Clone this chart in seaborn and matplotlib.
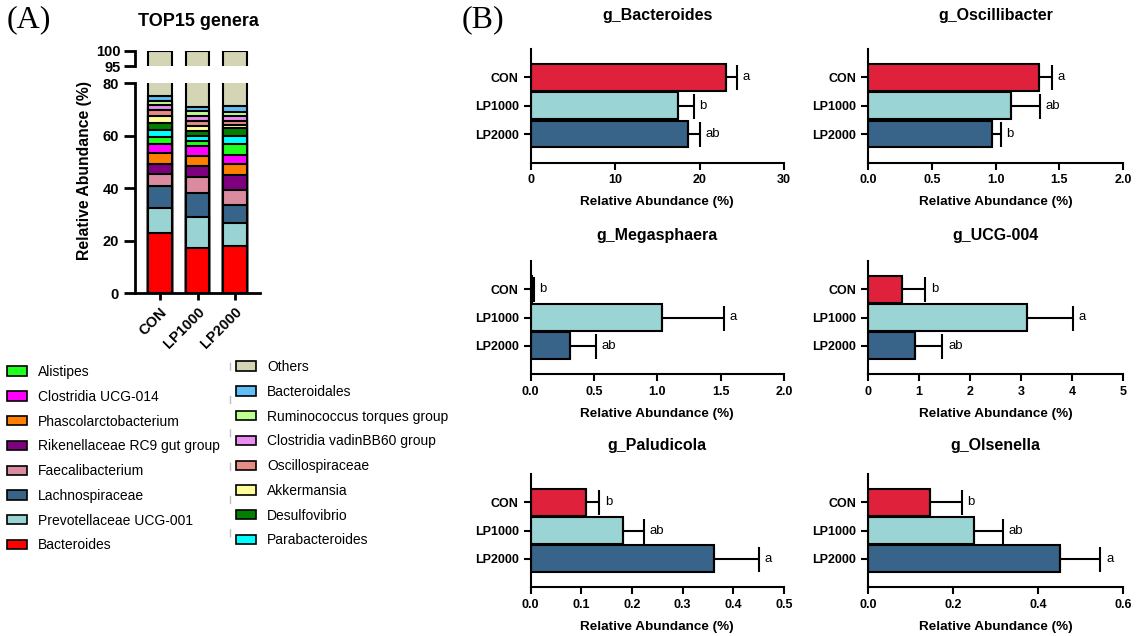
import numpy as np
import pandas as pd
import seaborn as sns
import matplotlib.pyplot as plt
from matplotlib.patches import Patch
from matplotlib.lines import Line2D
from matplotlib.ticker import FormatStrFormatter

# --- data -------------------------------------------------------------
groups = ['CON', 'LP1000', 'LP2000']

# stacking order, bottom -> top
genera = ['Bacteroides', 'Prevotellaceae UCG-001', 'Lachnospiraceae', 'Faecalibacterium',
          'Rikenellaceae RC9 gut group', 'Phascolarctobacterium', 'Clostridia UCG-014',
          'Alistipes', 'Parabacteroides', 'Desulfovibrio', 'Akkermansia', 'Oscillospiraceae',
          'Clostridia vadinBB60 group', 'Ruminococcus torques group', 'Bacteroidales', 'Others']
genus_colors = ['#FF0000', '#9AD3D3', '#376488', '#DA8BA0', '#7F007F', '#FF7F00', '#FF00FF',
                '#1EFF1E', '#00FFFF', '#007F00', '#FFFF99', '#E38D84', '#E98DF0', '#BCFF90',
                '#5EBEF5', '#D3D5B4']
con_abund = [22.8, 9.7, 8.3, 4.5, 4.1, 4.1, 3.3, 2.8, 2.7, 2.4, 2.8, 2.4, 1.7, 1.8, 1.7, 24.9]
lp1000_abund = [17.1, 11.8, 9.3, 6.1, 4.1, 4.0, 3.7, 2.0, 2.0, 1.9, 1.8, 2.0, 1.8, 2.0, 1.4, 29.0]
lp2000_abund = [18.2, 8.6, 7.0, 5.7, 5.4, 4.5, 3.4, 4.0, 3.3, 2.7, 1.3, 1.7, 1.8, 1.6, 2.1, 28.7]

# panel B: mean and mean+SD per group
panel_titles = ['g_Bacteroides', 'g_Oscillibacter', 'g_Megasphaera',
                'g_UCG-004', 'g_Paludicola', 'g_Olsenella']
panel_means = [[23.1, 17.4, 18.6], [1.34, 1.12, 0.97], [0.013, 1.04, 0.31],
               [0.67, 3.12, 0.92], [0.110, 0.183, 0.362], [0.145, 0.250, 0.451]]
panel_upper = [[24.4, 19.3, 20.0], [1.44, 1.35, 1.04], [0.028, 1.53, 0.52],
               [1.12, 4.01, 1.46], [0.136, 0.223, 0.450], [0.220, 0.318, 0.547]]
panel_letters = [['a', 'b', 'ab'], ['a', 'ab', 'b'], ['b', 'a', 'ab'],
                 ['b', 'a', 'ab'], ['b', 'ab', 'a'], ['b', 'ab', 'a']]
panel_xticks = [[0, 10, 20, 30], [0, 0.5, 1.0, 1.5, 2.0], [0, 0.5, 1.0, 1.5, 2.0],
                [0, 1, 2, 3, 4, 5], [0, 0.1, 0.2, 0.3, 0.4, 0.5], [0, 0.2, 0.4, 0.6]]
panel_fmt = ['%d', '%.1f', '%.1f', '%d', '%.1f', '%.1f']
group_colors = ['#DF213B', '#9BD4D4', '#376488']

# --- style ------------------------------------------------------------
sns.set_style('ticks')
plt.rcParams['font.family'] = ['Liberation Sans', 'DejaVu Sans']
plt.rcParams['axes.linewidth'] = 1.5
for key in ('text.color', 'axes.labelcolor', 'xtick.color', 'ytick.color', 'axes.edgecolor'):
    plt.rcParams[key] = 'black'

W, H = 1139, 636
fig = plt.figure(figsize=(W / 100, H / 100), dpi=100)


def px_axes(x0, y0, x1, y1):
    # axes from pixel box (top-left origin)
    return fig.add_axes([x0 / W, 1 - y1 / H, (x1 - x0) / W, (y1 - y0) / H])


# --- panel A: stacked bars with broken axis ---------------------------
stack = pd.DataFrame({'CON': con_abund, 'LP1000': lp1000_abund, 'LP2000': lp2000_abund},
                     index=genera)
cum = stack.cumsum()

ax_low = px_axes(135, 83.3, 260, 293.3)
ax_top = px_axes(135, 50.7, 260, 66.3)
for ax in (ax_low, ax_top):
    for i in reversed(range(len(genera))):
        sns.barplot(x=groups, y=cum.iloc[i].values, color=genus_colors[i], saturation=1,
                    edgecolor='black', linewidth=1.5, width=0.64, ax=ax)
    ax.set_xlim(-0.667, 2.667)
    sns.despine(ax=ax)
    for sp in ax.spines.values():
        sp.set_linewidth(2)

ax_low.set_ylim(0, 80)
ax_low.set_yticks([0, 20, 40, 60, 80])
ax_low.tick_params(axis='y', length=8, width=2, labelsize=10.5)
ax_low.tick_params(axis='x', length=5, width=2, labelsize=10.5)
for lab in ax_low.get_yticklabels():
    lab.set_fontweight('bold')
ax_low.set_xticks(range(3))
ax_low.set_xticklabels(groups, rotation=45, ha='right', rotation_mode='anchor',
                       fontweight='bold')
ax_low.set_xlabel('')
ax_low.set_ylabel('')

ax_top.set_ylim(95, 100)
ax_top.set_yticks([95, 100])
ax_top.spines['bottom'].set_visible(False)
ax_top.set_xticks([])
ax_top.tick_params(axis='y', length=8, width=2, labelsize=10.5, pad=2)
for lab in ax_top.get_yticklabels():
    lab.set_fontweight('bold')
ax_top.set_xlabel('')
ax_top.set_ylabel('')

fig.text(84 / W, 1 - 170 / H, 'Relative Abundance (%)', rotation=90, ha='center',
         va='center', fontsize=11.3, fontweight='bold')
fig.text(198 / W, 1 - 21 / H, 'TOP15 genera', ha='center', va='center',
         fontsize=13, fontweight='bold')
fig.text(7 / W, 1 - 20 / H, '(A)', ha='left', va='center', fontsize=23,
         family='Liberation Serif')
fig.text(462 / W, 1 - 20 / H, '(B)', ha='left', va='center', fontsize=23,
         family='Liberation Serif')

# legend, two columns
left_idx = list(range(7, -1, -1))
right_idx = list(range(15, 7, -1))
for idx, x0, y0 in ((left_idx, 7, 365), (right_idx, 236, 360)):
    handles = [Patch(facecolor=genus_colors[i], edgecolor='black', linewidth=1.2) for i in idx]
    fig.legend(handles, [genera[i] for i in idx], loc='upper left',
               bbox_to_anchor=(x0 / W, 1 - y0 / H), frameon=False, fontsize=10,
               handlelength=1.44, handleheight=0.66, handletextpad=0.79,
               labelspacing=0.775, borderpad=0, borderaxespad=0)
fig.add_artist(Line2D([230 / W, 230 / W], [1 - 362 / H, 1 - 550 / H], color='#c0c0c0',
                      linewidth=1, linestyle=(0, (6, 18))))

# --- panel B: six horizontal bar charts -------------------------------
col_x = [(530.5, 784), (868, 1123)]
row_y = [(49, 162.5), (261, 374), (474, 587)]
title_pad = [21, 15, 17]

for k, title in enumerate(panel_titles):
    r, c = divmod(k, 2)
    ax = px_axes(col_x[c][0], row_y[r][0], col_x[c][1], row_y[r][1])
    means = np.array(panel_means[k])
    upper = np.array(panel_upper[k])
    sns.barplot(x=means, y=groups, hue=groups, palette=group_colors, saturation=1,
                edgecolor='black', linewidth=1.5, width=0.94, legend=False,
                orient='h', ax=ax)
    ax.errorbar(means, range(3), xerr=[np.zeros(3), upper - means], fmt='none',
                ecolor='black', elinewidth=1.5, capsize=9, capthick=1.5)
    for i, letter in enumerate(panel_letters[k]):
        ax.annotate(letter, xy=(upper[i], i), xytext=(4, 0), textcoords='offset points',
                    va='center', ha='left', fontsize=9.5)
    ax.set_xlim(0, panel_xticks[k][-1])
    ax.set_ylim(3, -1)
    ax.set_xticks(panel_xticks[k])
    ax.xaxis.set_major_formatter(FormatStrFormatter(panel_fmt[k]))
    sns.despine(ax=ax)
    ax.tick_params(length=5, width=1.5, labelsize=9)
    for lab in ax.get_xticklabels() + ax.get_yticklabels():
        lab.set_fontweight('bold')
    ax.set_ylabel('')
    ax.set_xlabel('Relative Abundance (%)', fontsize=9.7, fontweight='bold', labelpad=7)
    ax.set_title(title, fontsize=11.5, fontweight='bold', pad=title_pad[r])

fig.savefig('out.png', dpi=100)
